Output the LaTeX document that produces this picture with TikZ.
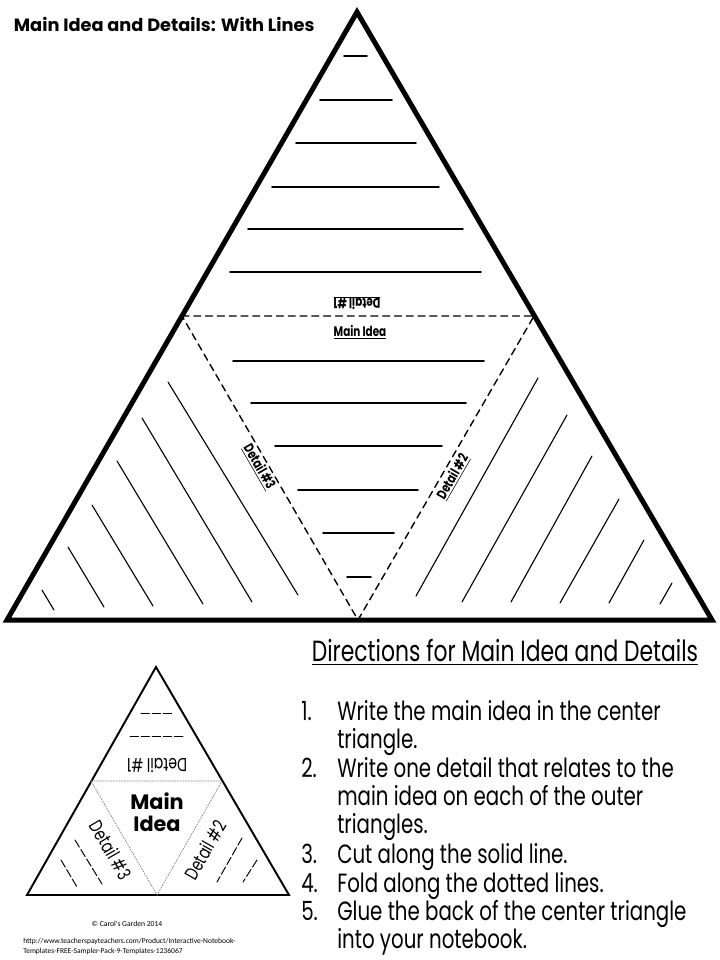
\documentclass[tikz,border=0pt]{standalone}
\usepackage{fontspec}
\setmainfont{Poppins}
\newfontfamily\handfont{Poppins}[FakeStretch=0.75]
\newfontfamily\notefont{Carlito}

\begin{document}
\begin{tikzpicture}[x=0.72pt,y=-0.72pt,line cap=round,
  cut/.style={line width=3.6pt,line join=miter},
  fold/.style={line width=1pt,dash pattern=on 5pt off 3.5pt},
  rule/.style={line width=1.1pt},
  hatch/.style={line width=0.8pt},
  smallcut/.style={line width=1.4pt},
  smallfold/.style={line width=0.5pt,gray,dash pattern=on 1pt off 1pt},
  smallrule/.style={line width=0.7pt,dash pattern=on 6pt off 2pt},
  lab/.style={font=\handfont\bfseries\fontsize{10}{11}\selectfont,inner sep=1pt},
  handlab/.style={font=\handfont\fontsize{13.5}{15}\selectfont,inner sep=0pt},
  step line/.style={font=\handfont\fontsize{19}{22}\selectfont,anchor=base west,inner sep=0pt}]
\useasboundingbox (0,0) rectangle (720,960);

\node[anchor=west,font=\bfseries\fontsize{12.8}{14}\selectfont] (title) at (9,24) {Main Idea and Details: With Lines};

% big template
\coordinate (top) at (357,12);
\coordinate (bl) at (7,620);
\coordinate (br) at (712,620);
\coordinate (ml) at (182,316);
\coordinate (mr) at (534,316);
\coordinate (mb) at (358,620);
\draw[cut] (top) -- (br) -- (bl) -- cycle;
\draw[fold] (ml) -- (mr) -- (mb) -- cycle;

\draw[rule] (344,56) -- (367,56) (320,100) -- (392,100) (296,143) -- (416,143)
  (272,187) -- (439,187) (248,229) -- (463,229) (230,272) -- (481,272);
\draw[rule] (233,361) -- (484,361) (251,403) -- (466,403) (275,446) -- (442,446)
  (298,490) -- (418,490) (323,533) -- (394,533) (347,577) -- (371,577);
\draw[hatch] (168,382) -- (298,595) (142,418) -- (252,602) (117,461) -- (203,604)
  (92,505) -- (153,606) (68,547) -- (104,607) (42,590) -- (54,610);
\draw[hatch] (538,378) -- (416,596) (567,415) -- (462,602) (592,456) -- (511,602)
  (619,499) -- (560,603) (644,540) -- (609,603) (672,583) -- (660,604);

\node[lab,rotate=180] (d1) at (357,303) {\underline{Detail \#1}};
\node[lab] (mi) at (360,332) {\underline{Main Idea}};
\node[lab,rotate=-60] (d3) at (259,467) {\underline{Detail \#3}};
\node[lab,rotate=60] (d2) at (453,477) {\underline{Detail \#2}};

% small sample
\coordinate (stop) at (156,667);
\coordinate (sbl) at (27,895);
\coordinate (sbr) at (289,895);
\coordinate (sml) at (91,781);
\coordinate (smr) at (222,781);
\coordinate (smb) at (157,895);
\draw[smallcut] (stop) -- (sbr) -- (sbl) -- cycle;
\draw[smallfold] (sml) -- (smr) -- (smb) -- cycle;
\draw[smallrule] (141,713) -- (173,713) (130,736) -- (183,736);
\draw[smallrule] (75,840) -- (102,884) (61,860) -- (77,887);
\draw[smallrule] (242,838) -- (217,882) (257,860) -- (243,882);

\node[handlab,rotate=180] (sd1) at (157,766) {Detail \#1};
\node[font=\bfseries\fontsize{15}{15.5}\selectfont,align=center,inner sep=0pt] (smi) at (157,812) {Main\\Idea};
\node[handlab,rotate=-60] (sd3) at (111,850) {Detail \#3};
\node[handlab,rotate=60] (sd2) at (205,850) {Detail \#2};

\node[font=\notefont\fontsize{5.5}{6.5}\selectfont] (copy) at (127,924) {© Carol's Garden 2014};
\node[anchor=west,align=left,font=\notefont\fontsize{5.4}{6.5}\selectfont,inner sep=0pt] (url) at (23,946.5)
  {http://www.teacherspayteachers.com/Product/Interactive-Notebook-\\Templates-FREE-Sampler-Pack-9-Templates-1236067};

% directions
\node[font=\handfont\fontsize{21}{23}\selectfont] (dirs) at (505,652) {\underline{Directions for Main Idea and Details}};
\node[step line] (n1) at (301,720) {1.};
\node[step line] (t1) at (337,720) {Write the main idea in the center};
\node[step line] (t1b) at (337,748) {triangle.};
\node[step line] (n2) at (301,777) {2.};
\node[step line] (t2) at (337,777) {Write one detail that relates to the};
\node[step line] (t2b) at (337,805) {main idea on each of the outer};
\node[step line] (t2c) at (337,833) {triangles.};
\node[step line] (n3) at (301,863) {3.};
\node[step line] (t3) at (337,863) {Cut along the solid line.};
\node[step line] (n4) at (301,892) {4.};
\node[step line] (t4) at (337,892) {Fold along the dotted lines.};
\node[step line] (n5) at (301,920) {5.};
\node[step line] (t5) at (337,920) {Glue the back of the center triangle};
\node[step line] (t5b) at (337,948) {into your notebook.};
\end{tikzpicture}
\end{document}
